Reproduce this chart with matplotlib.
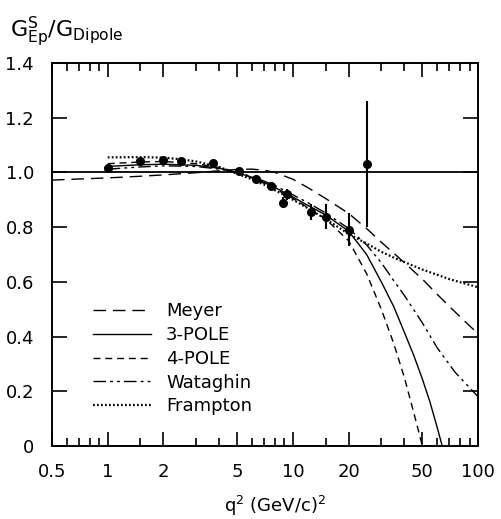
import matplotlib
matplotlib.use("Agg")
import matplotlib.pyplot as plt
from matplotlib.ticker import FixedLocator, NullFormatter

plt.rcParams['font.family'] = ['DejaVu Sans']
plt.rcParams['mathtext.default'] = 'regular'

# --- measured data points ---
q2_data = [1.0, 1.5, 2.0, 2.5, 3.7, 5.1, 6.3, 7.6, 8.8, 9.3, 12.5, 15.1, 20.0, 25.0]
g_data = [1.015, 1.043, 1.045, 1.043, 1.035, 1.005, 0.975, 0.95, 0.89, 0.92, 0.856, 0.838, 0.79, 1.03]
g_err = [0.01, 0.01, 0.01, 0.01, 0.01, 0.012, 0.015, 0.015, 0.02, 0.02, 0.03, 0.045, 0.06, 0.23]

# --- model curves ---
meyer_q2 = [0.5, 0.7, 1, 1.5, 2, 3, 4, 5, 6, 7, 8, 10, 12, 15, 20, 25, 30, 40, 50, 60, 70, 85, 100]
meyer_g = [0.972, 0.976, 0.98, 0.986, 0.991, 0.999, 1.006, 1.011, 1.012, 1.008, 1.0, 0.975, 0.945,
           0.905, 0.85, 0.795, 0.745, 0.67, 0.61, 0.555, 0.51, 0.455, 0.41]

pole3_q2 = [1, 1.5, 2, 3, 4, 5, 6, 7, 8, 10, 12, 15, 20, 25, 30, 35, 40, 45, 50, 55, 60, 64]
pole3_g = [1.022, 1.028, 1.03, 1.026, 1.015, 1.0, 0.982, 0.963, 0.945, 0.91, 0.88, 0.845, 0.785,
           0.70, 0.60, 0.51, 0.415, 0.33, 0.245, 0.16, 0.07, 0.0]

pole4_q2 = [1, 1.5, 2, 3, 4, 5, 6, 7, 8, 10, 12, 15, 20, 25, 30, 35, 40, 45, 50]
pole4_g = [1.032, 1.038, 1.04, 1.032, 1.018, 1.0, 0.98, 0.96, 0.94, 0.905, 0.872, 0.83, 0.75,
           0.63, 0.50, 0.375, 0.25, 0.12, 0.0]

wat_q2 = [1, 1.5, 2, 3, 4, 5, 6, 7, 8, 10, 12, 15, 20, 25, 30, 35, 40, 50, 60, 75, 100]
wat_g = [1.012, 1.02, 1.024, 1.022, 1.012, 1.0, 0.985, 0.968, 0.952, 0.918, 0.89, 0.852, 0.795,
         0.735, 0.67, 0.605, 0.55, 0.45, 0.36, 0.27, 0.18]

fr_q2 = [1, 1.5, 2, 2.5, 3, 4, 5, 6, 7, 8, 10, 12, 15, 20, 25, 30, 36, 50, 70, 100]
fr_g = [1.055, 1.056, 1.054, 1.048, 1.04, 1.02, 0.995, 0.975, 0.955, 0.935, 0.9, 0.87, 0.83,
        0.775, 0.74, 0.71, 0.685, 0.645, 0.61, 0.58]

x_major = [0.5, 1, 2, 5, 10, 20, 50, 100]
x_labels = ['0.5', '1', '2', '5', '10', '20', '50', '100']
x_minor = [0.6, 0.7, 0.8, 0.9, 1.5, 3, 4, 6, 7, 8, 9, 15, 30, 40, 60, 70, 80, 90]
y_major = [0, 0.2, 0.4, 0.6, 0.8, 1.0, 1.2, 1.4]
y_labels = ['0', '0.2', '0.4', '0.6', '0.8', '1.0', '1.2', '1.4']

fig = plt.figure(figsize=(5.01, 5.19), dpi=100)
ax = fig.add_axes([0.1038, 0.1407, 0.8505, 0.7379])

ax.axhline(1.0, color='black', lw=1.3)

ax.plot(meyer_q2, meyer_g, color='black', lw=1.0, ls=(0, (9, 5)), label='Meyer')
ax.plot(pole3_q2, pole3_g, color='black', lw=1.0, ls='-', label='3-POLE')
ax.plot(pole4_q2, pole4_g, color='black', lw=1.0, ls=(0, (5, 3.5)), label='4-POLE')
ax.plot(wat_q2, wat_g, color='black', lw=1.0, ls=(0, (9, 3, 2, 3, 2, 3)), label='Wataghin')
ax.plot(fr_q2, fr_g, color='black', lw=1.6, ls=(0, (0.8, 1.0)), label='Frampton')

ax.errorbar(q2_data, g_data, yerr=g_err, fmt='o', color='black', ms=5.5, elinewidth=1.5,
            capsize=0, zorder=5)

ax.set_xscale('log')
ax.set_xlim(0.5, 100)
ax.set_ylim(0, 1.4)

ax.xaxis.set_major_locator(FixedLocator(x_major))
ax.set_xticklabels(x_labels)
ax.xaxis.set_minor_locator(FixedLocator(x_minor))
ax.xaxis.set_minor_formatter(NullFormatter())
ax.set_yticks(y_major)
ax.set_yticklabels(y_labels)

ax.tick_params(axis='both', which='both', direction='in', top=True, right=True,
               labelsize=13, width=1.2, color='black')
ax.tick_params(axis='x', which='major', length=10, pad=12)
ax.tick_params(axis='x', which='minor', length=6)
ax.tick_params(axis='y', which='major', length=11, pad=13)
for s in ax.spines.values():
    s.set_linewidth(1.4)

ax.legend(loc='upper left', bbox_to_anchor=(0.096, 0.375), frameon=False, fontsize=13,
          handlelength=3.2, handletextpad=0.85, labelspacing=0.32, borderpad=0,
          borderaxespad=0)

fig.text(10 / 501, 1 - 37 / 519, r'$G^{S}_{Ep}/G_{Dipole}$', fontsize=16, ha='left', va='baseline')
fig.text(275 / 501, 1 - 512 / 519, r'q$^2$ (GeV/c)$^2$', fontsize=13, ha='center', va='baseline')

fig.savefig('out.png', dpi=100)
